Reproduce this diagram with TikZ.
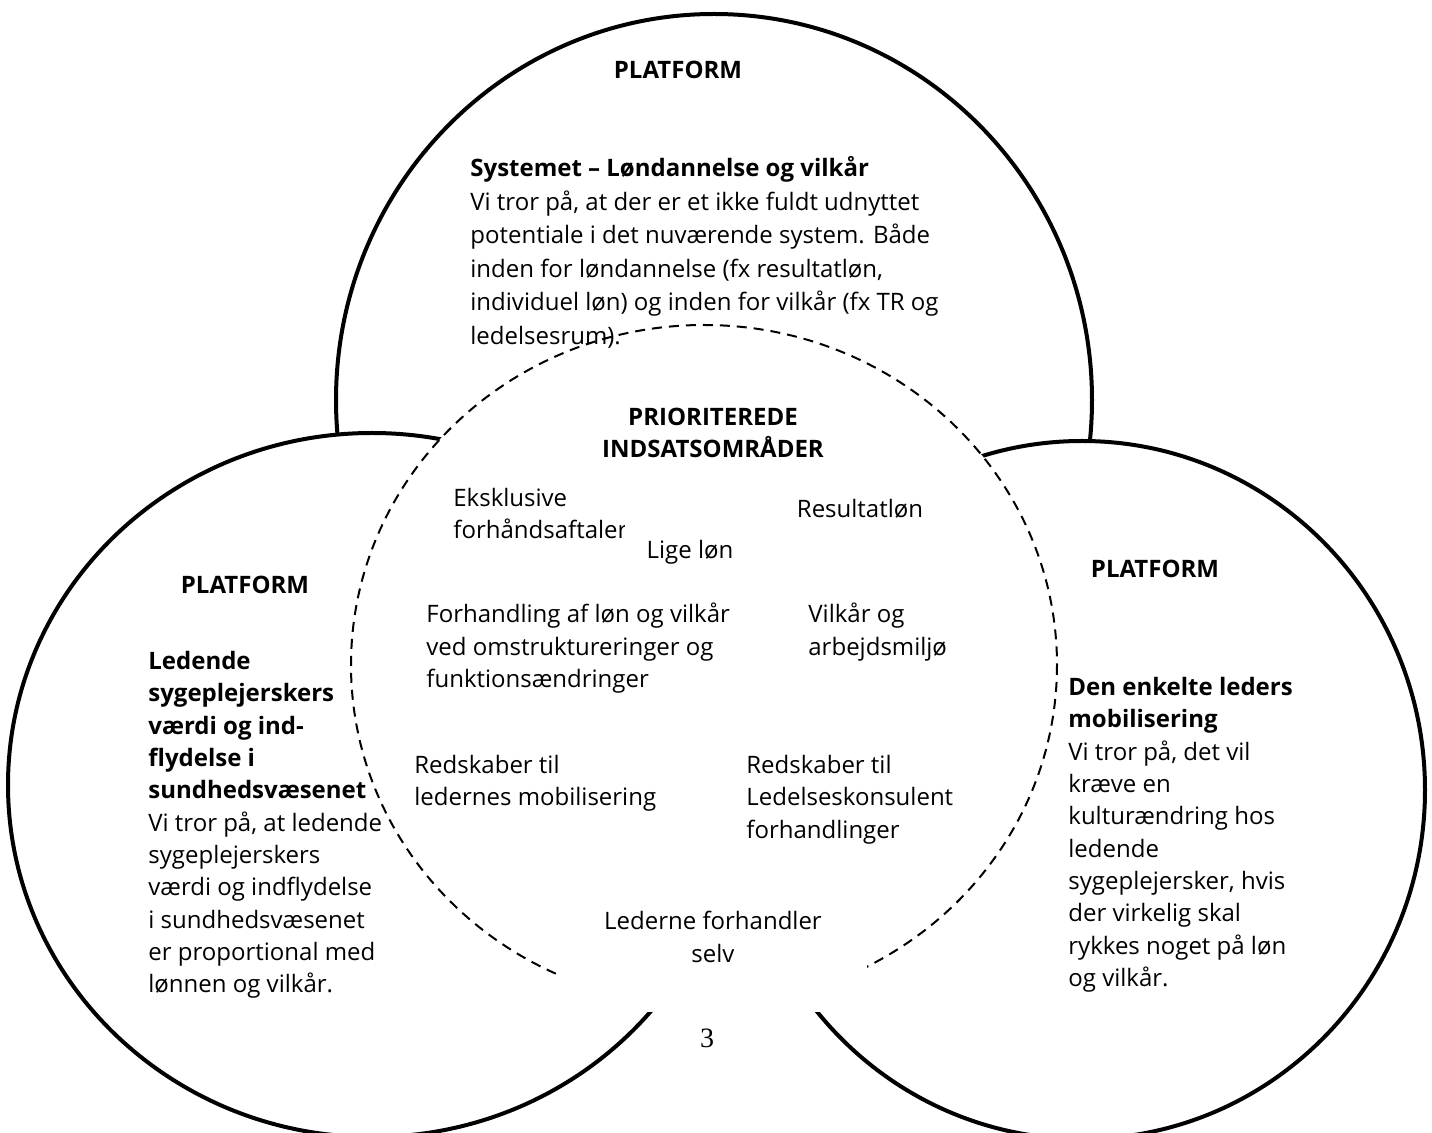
\documentclass[tikz,border=0pt]{standalone}
\usepackage{fontspec}
\setmainfont{Open Sans}
\newfontfamily\pagefont{Liberation Serif}
\usetikzlibrary{positioning}
\newcommand{\bodysize}{\fontsize{12}{16.15}\selectfont}
\newcommand{\topsize}{\fontsize{12}{16.8}\selectfont}
\tikzset{
  platform circle/.style={
    draw=black,
    line width=2pt,
    fill=white
  },
  core circle/.style={
    draw=black,
    line width=1pt,
    dash pattern=on 5pt off 3.5pt,
    fill=white
  },
  head label/.style={
    font=\bfseries\bodysize,
    inner sep=0pt
  },
  body text/.style={
    font=\bodysize,
    align=left,
    anchor=north west,
    inner sep=0pt
  },
  item text/.style={
    font=\bodysize,
    align=center,
    inner sep=0pt
  }
}

\begin{document}
\begin{tikzpicture}[x=0.5pt, y=-0.5pt] % koordinater i billedpunkter, y nedad

  \useasboundingbox (0,0) rectangle (1432,1133); % fast ramme som originalen
  \clip (0,0) rectangle (1432,1133); % cirklerne går ud over kanten forneden

  % de tre platforme (hvide, så de dækker hinanden)
  \draw[platform circle] (714,400) ellipse [x radius=378, y radius=386]; % øverste platform
  \draw[platform circle] (372,785) ellipse [x radius=364, y radius=352]; % venstre platform
  \draw[platform circle] (1082,790) ellipse [x radius=343, y radius=349]; % højre platform

  % stiplet kerne med de prioriterede indsatsområder
  \draw[core circle] (704,665) ellipse [x radius=353, y radius=340];
  \fill[white] (560,965) rectangle (867,1012); % hvid tekstboks skjuler bunden

  % øverste platform
  \node[head label] (topplat) at (678,70) {PLATFORM};
  \node[body text, font=\topsize] (topbody) at (470,156) {\textbf{Systemet – Løndannelse og vilkår}\\
    Vi tror på, at der er et ikke fuldt udnyttet\\
    potentiale i det nuværende system. Både\\
    inden for løndannelse (fx resultatløn,\\
    individuel løn) og inden for vilkår (fx TR og\\
    ledelsesrum).};

  % venstre platform
  \node[head label] (leftplat) at (245,585) {PLATFORM};
  \node[body text] (leftbody) at (148,651) {\textbf{Ledende}\\
    \textbf{sygeplejerskers}\\
    \textbf{værdi og ind-}\\
    \textbf{flydelse i}\\
    \textbf{sundhedsvæsenet}\\
    Vi tror på, at ledende\\
    sygeplejerskers\\
    værdi og indflydelse\\
    i sundhedsvæsenet\\
    er proportional med\\
    lønnen og vilkår.};

  % højre platform
  \node[head label] (rightplat) at (1155,569) {PLATFORM};
  \node[body text] (rightbody) at (1068,677) {\textbf{Den enkelte leders}\\
    \textbf{mobilisering}\\
    Vi tror på, det vil\\
    kræve en\\
    kulturændring hos\\
    ledende\\
    sygeplejersker, hvis\\
    der virkelig skal\\
    rykkes noget på løn\\
    og vilkår.};

  % indsatsområder
  \node[head label, align=center] (corehead) at (713,433) {PRIORITEREDE\\INDSATSOMRÅDER};
  \node[body text] (aftaler) at (453,488) {Eksklusive\\forhåndsaftaler};
  \node[item text] (resultat) at (860,509) {Resultatløn};
  \node[item text, fill=white, minimum width=65pt, minimum height=37.5pt] (ligelon) at (690,552) {Lige løn};
  \node[body text] (omstrukt) at (426,603) {Forhandling af løn og vilkår\\ved omstruktureringer og\\funktionsændringer};
  \node[body text] (miljo) at (808,603) {Vilkår og\\arbejdsmiljø};
  \node[body text] (redmob) at (414,755) {Redskaber til\\ledernes mobilisering};
  \node[body text] (redkons) at (746,755) {Redskaber til\\Ledelseskonsulent\\forhandlinger};
  \node[item text] (selv) at (713,937) {Lederne forhandler\\selv};

  \node[font=\pagefont\fontsize{14}{14}\selectfont, inner sep=0pt] (sidetal) at (707,1038) {3}; % sidetal

\end{tikzpicture}
\end{document}
